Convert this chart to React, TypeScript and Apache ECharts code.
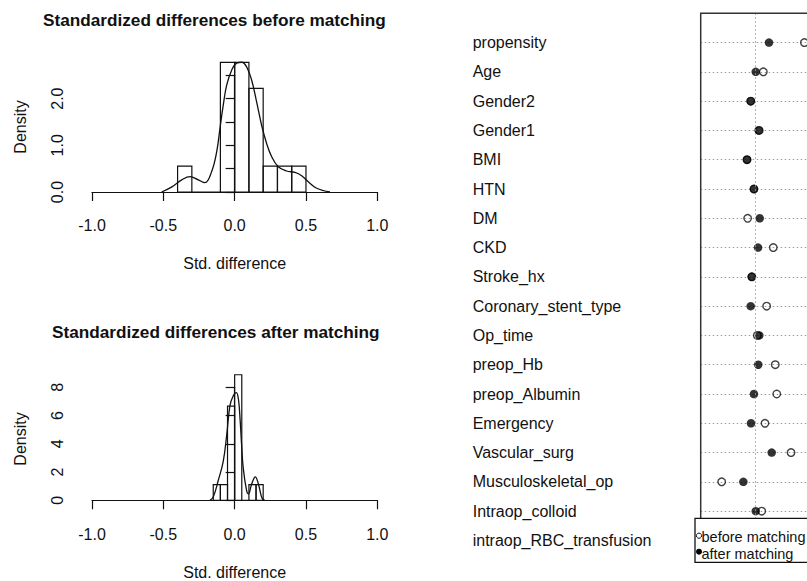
import React, { useEffect, useRef } from "react";
import * as echarts from "echarts";

const FONT = "'Liberation Sans', Arial, Helvetica, sans-serif";

// Variables of the dot plot (top to bottom)
const variables = [
  "propensity", "Age", "Gender2", "Gender1", "BMI", "HTN", "DM", "CKD", "Stroke_hx",
  "Coronary_stent_type", "Op_time", "preop_Hb", "preop_Albumin", "Emergency",
  "Vascular_surg", "Musculoskeletal_op", "Intraop_colloid", "intraop_RBC_transfusion",
];
// Standardized differences before / after matching
const beforeDiff = [0.47, 0.079, -0.04, 0.04, -0.076, -0.01, -0.07, 0.174, -0.03, 0.111, 0.022, 0.193, 0.207, 0.095, 0.343, -0.317, 0.064, 0.12];
const afterDiff = [0.133, 0.007, -0.041, 0.035, -0.076, -0.01, 0.045, 0.029, -0.031, -0.041, 0.041, 0.031, -0.01, -0.038, 0.159, -0.111, 0.007, 0.02];

// Histogram before matching
const beforeBinEdges = [-0.4, -0.3, -0.2, -0.1, 0, 0.1, 0.2, 0.3, 0.4, 0.5];
const beforeDensity = [0.556, 0, 0, 2.778, 2.778, 2.222, 0.556, 0.556, 0.556];
// Density curve before matching
const beforeKdeX = [-0.512, -0.44, -0.371, -0.313, -0.255, -0.208, -0.161, -0.126, -0.103, -0.08, -0.056, -0.021, 0.014, 0.05, 0.084, 0.119, 0.154, 0.189, 0.224, 0.259, 0.306, 0.364, 0.423, 0.47, 0.516, 0.575, 0.668];
const beforeKdeY = [0, 0.11, 0.26, 0.33, 0.26, 0.2, 0.44, 0.86, 1.36, 1.86, 2.29, 2.61, 2.76, 2.78, 2.68, 2.4, 1.93, 1.43, 1.04, 0.76, 0.54, 0.45, 0.42, 0.35, 0.22, 0.08, 0];

// Histogram after matching
const afterBinEdges = [-0.15, -0.1, -0.05, 0, 0.05, 0.1, 0.15, 0.2];
const afterDensity = [1.111, 1.111, 6.667, 8.889, 0, 1.111, 1.111];
// Density curve after matching
const afterKdeX = [-0.173, -0.15, -0.115, -0.08, -0.056, -0.033, -0.012, 0.012, 0.027, 0.038, 0.049, 0.06, 0.084, 0.097, 0.119, 0.145, 0.167, 0.192, 0.212];
const afterKdeY = [0, 0.23, 1.4, 2.76, 4.6, 6.7, 7.35, 7.62, 7.12, 5.74, 3.9, 2.3, 0.69, 0.46, 1.14, 1.66, 1.14, 0.15, 0];

// Tick labels
const histXTicks = ["-1.0", "-0.5", "0.0", "0.5", "1.0"];
const beforeYTicks = ["0.0", "1.0", "2.0"];

const INK = "#111111";

function binData(edges: number[], dens: number[]) {
  return dens.map((d, i) => [edges[i], edges[i + 1], d]);
}

function histRender(params: any, api: any) {
  const p0 = api.coord([api.value(0), 0]);
  const p1 = api.coord([api.value(1), api.value(2)]);
  return {
    type: "rect",
    shape: { x: p0[0], y: p1[1], width: p1[0] - p0[0], height: p0[1] - p1[1] },
    style: { fill: "none", stroke: INK, lineWidth: 1.2 },
  };
}

function histXAxis(gridIndex: number) {
  return {
    gridIndex,
    type: "value",
    min: -1,
    max: 1,
    interval: 0.5,
    offset: 5.7,
    axisLine: { show: true, lineStyle: { color: INK, width: 1.2 } },
    axisTick: { show: true, length: 9, lineStyle: { color: INK, width: 1.2 } },
    axisLabel: {
      margin: 20,
      fontSize: 16,
      color: INK,
      fontFamily: FONT,
      formatter: (v: number) => histXTicks[Math.round((v + 1) / 0.5)] ?? "",
    },
    splitLine: { show: false },
    name: "Std. difference",
    nameLocation: "middle",
    nameGap: 58,
    nameTextStyle: { fontSize: 16, color: INK, fontFamily: FONT },
  };
}

function sideText(text: string, x: number, y: number) {
  return {
    type: "text", x, y, rotation: Math.PI / 2,
    style: { text, fontSize: 16, fontFamily: FONT, fill: INK, align: "center", verticalAlign: "middle" },
  };
}

export default function App() {
  const ref = useRef<HTMLDivElement>(null);
  useEffect(() => {
    document.body.style.margin = "0";
    const chart = echarts.init(ref.current!, null, { renderer: "svg" });
    const option: any = {
      animation: false,
      backgroundColor: "#ffffff",
      textStyle: { fontFamily: FONT },
      title: [
        {
          text: "Standardized differences before matching",
          left: 43,
          top: 11,
          padding: 0,
          textStyle: { fontSize: 17.2, fontWeight: "bold", color: INK, fontFamily: FONT },
        },
        {
          text: "Standardized differences after matching",
          left: 52,
          top: 323,
          padding: 0,
          textStyle: { fontSize: 17.2, fontWeight: "bold", color: INK, fontFamily: FONT },
        },
      ],
      grid: [
        { left: 92, top: 75.3, width: 285.3, height: 116.7 },
        { left: 92, top: 387.3, width: 285.3, height: 116 },
        { left: 700.7, top: 13.3, right: 0, height: 544.7 },
      ],
      xAxis: [
        histXAxis(0),
        histXAxis(1),
        {
          gridIndex: 2, type: "value", min: -0.517, max: 0.495,
          axisLine: { show: false }, axisTick: { show: false }, axisLabel: { show: false },
          splitLine: { show: false },
        },
      ],
      yAxis: [
        {
          gridIndex: 0, type: "value", min: 0, max: 2.5, interval: 0.5, offset: 7,
          axisLine: { show: true, lineStyle: { color: INK, width: 1.2 } },
          axisTick: { show: true, length: 9, lineStyle: { color: INK, width: 1.2 } },
          axisLabel: {
            rotate: 90, margin: 20, fontSize: 16, color: INK, fontFamily: FONT,
            formatter: (v: number) => (Math.abs(v - Math.round(v)) < 1e-6 ? beforeYTicks[Math.round(v)] ?? "" : ""),
          },
          splitLine: { show: false },
        },
        {
          gridIndex: 1, type: "value", min: 0, max: 8, interval: 2, offset: 7,
          axisLine: { show: true, lineStyle: { color: INK, width: 1.2 } },
          axisTick: { show: true, length: 9, lineStyle: { color: INK, width: 1.2 } },
          axisLabel: { rotate: 90, margin: 20, fontSize: 16, color: INK, fontFamily: FONT },
          splitLine: { show: false },
        },
        {
          gridIndex: 2, type: "value", inverse: true, min: -1, max: 17.6, interval: 1,
          axisLine: { show: false }, axisTick: { show: false },
          axisLabel: {
            margin: 228, align: "left", fontSize: 16, color: INK, fontFamily: FONT,
            formatter: (v: number) => variables[v] ?? "",
          },
          splitLine: { show: true, lineStyle: { color: "#9a9a9a", width: 1, type: [1.5, 2.5] } },
        },
      ],
      series: [
        {
          type: "custom", xAxisIndex: 0, yAxisIndex: 0, clip: false,
          data: binData(beforeBinEdges, beforeDensity), renderItem: histRender,
        },
        {
          type: "line", xAxisIndex: 0, yAxisIndex: 0, smooth: 0.4, symbol: "none", clip: false,
          data: beforeKdeX.map((x, i) => [x, beforeKdeY[i]]),
          lineStyle: { color: INK, width: 1.3 },
        },
        {
          type: "custom", xAxisIndex: 1, yAxisIndex: 1, clip: false,
          data: binData(afterBinEdges, afterDensity), renderItem: histRender,
        },
        {
          type: "line", xAxisIndex: 1, yAxisIndex: 1, smooth: 0.4, symbol: "none", clip: false,
          data: afterKdeX.map((x, i) => [x, afterKdeY[i]]),
          lineStyle: { color: INK, width: 1.3 },
        },
        {
          type: "scatter", xAxisIndex: 2, yAxisIndex: 2, symbol: "circle", symbolSize: 7.5, z: 3,
          clip: false,
          data: beforeDiff.map((v, i) => [v, i]),
          itemStyle: { color: "rgba(255,255,255,0)", borderColor: INK, borderWidth: 1.4 },
          markLine: {
            silent: true, symbol: "none", label: { show: false },
            lineStyle: { color: "#9a9a9a", width: 1, type: [1.5, 2.5] },
            data: [{ xAxis: 0 }],
          },
        },
        {
          type: "scatter", xAxisIndex: 2, yAxisIndex: 2, symbol: "circle", symbolSize: 8.5, z: 4,
          clip: false,
          data: afterDiff.map((v, i) => [v, i]),
          itemStyle: { color: "#000000" },
        },
      ],
      graphic: [
        sideText("Density", 20, 127),
        sideText("Density", 20, 439),
        {
          type: "polyline", z: 50,
          shape: { points: [[700.7, 560], [700.7, 13.3], [820, 13.3]] },
          style: { fill: "none", stroke: "#333", lineWidth: 1.5 },
        },
        {
          type: "rect", z: 100,
          shape: { x: 695, y: 518.3, width: 140, height: 44 },
          style: { fill: "#ffffff", stroke: INK, lineWidth: 1.3 },
        },
        {
          type: "circle", z: 101,
          shape: { cx: 699, cy: 535.7, r: 2.6 },
          style: { fill: "#ffffff", stroke: INK, lineWidth: 1 },
        },
        {
          type: "circle", z: 101,
          shape: { cx: 699, cy: 551.7, r: 3 },
          style: { fill: "#000000" },
        },
        {
          type: "text", z: 101, x: 701.5, y: 536.7,
          style: { text: "before matching", fontSize: 14.5, fontFamily: FONT, fill: INK, verticalAlign: "middle" },
        },
        {
          type: "text", z: 101, x: 701.5, y: 554,
          style: { text: "after matching", fontSize: 14.5, fontFamily: FONT, fill: INK, verticalAlign: "middle" },
        },
      ],
    };
    chart.setOption(option);
    return () => chart.dispose();
  }, []);
  return <div ref={ref} style={{ position: "absolute", left: 0, top: 0, width: 807, height: 581 }} />;
}
